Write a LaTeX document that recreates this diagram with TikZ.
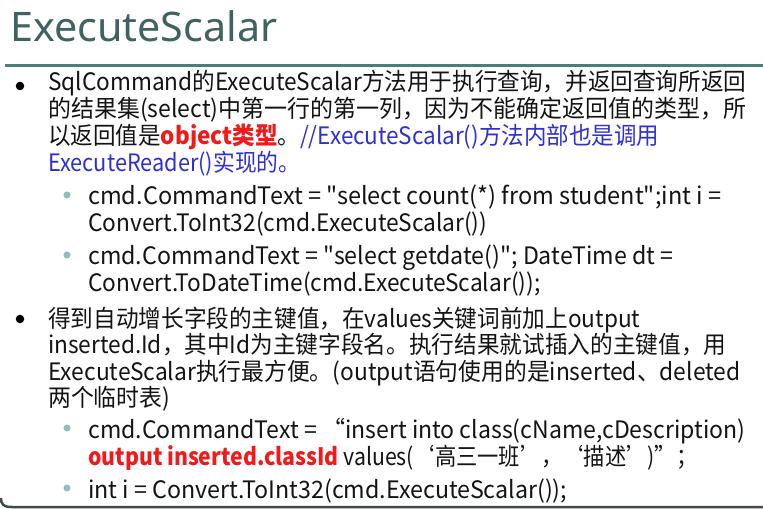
\documentclass[tikz,border=0pt]{standalone}
\usepackage{fontspec}
\usepackage{graphicx}
\newfontfamily\bodyfont{Noto Sans CJK SC}
\newfontfamily\titlefont{Noto Sans}
\newdimen\px \px=0.75pt
\definecolor{txt}{HTML}{141414}
\definecolor{redtxt}{HTML}{F01A1A}
\definecolor{bluetxt}{HTML}{2F2FD2}
\definecolor{titlecol}{HTML}{3F6360}
\definecolor{rulecol}{HTML}{4E7D77}
\definecolor{bottomcol}{HTML}{3D4B4A}
\definecolor{subdot}{HTML}{8CBFBA}
\newcommand\fitw[2]{\resizebox{#1\px}{\height}{#2}}
\newcommand\rd[1]{{\color{redtxt}\bfseries #1}}
\newcommand\bl[1]{{\color{bluetxt}#1}}
\tikzset{
  line/.style={anchor=base west, inner sep=0pt, text=txt, font=\bodyfont\fontsize{18pt}{20pt}\selectfont},
  mainbullet/.style={circle, fill=black, inner sep=0pt, minimum size=8.5\px},
  subbullet/.style={circle, fill=subdot, inner sep=0pt, minimum size=7\px},
}
\begin{document}
\begin{tikzpicture}[x=0.75pt,y=-0.75pt]
\useasboundingbox (0,0) rectangle (763,509);
\fill[white] (0,0) rectangle (763,509);
% title
\node[anchor=base west, inner sep=0pt, text=titlecol, font=\titlefont\fontsize{30.5pt}{32pt}\selectfont] (title) at (10,42) {\fitw{267}{ExecuteScalar}};
\coordinate (ruleL) at (5,66);
\coordinate (ruleR) at (763,66);
\draw[rulecol, line width=3\px] (ruleL) -- (ruleR);
% bullet 1
\node[mainbullet] (bb1) at (20,86) {};
\node[line] (b1a) at (48,91) {\fitw{698}{SqlCommand的ExecuteScalar方法用于执行查询，并返回查询所返回}};
\node[line] (b1b) at (48,118) {\fitw{698}{的结果集(select)中第一行的第一列，因为不能确定返回值的类型，所}};
\node[line] (b1c) at (48,145) {\fitw{611}{以返回值是\rd{object类型}。\bl{//ExecuteScalar()方法内部也是调用}}};
\node[line] (b1d) at (48,172) {\fitw{252}{\bl{ExecuteReader()实现的。}}};
% sub 1
\node[subbullet] (sb1) at (67,195) {};
\node[line] (s1a) at (88,205) {\fitw{633}{cmd.CommandText = "select count(*) from student";int i =}};
\node[line] (s1b) at (88,232) {\fitw{399}{Convert.ToInt32(cmd.ExecuteScalar())}};
% sub 2
\node[subbullet] (sb2) at (67,255) {};
\node[line] (s2a) at (88,265) {\fitw{585}{cmd.CommandText = "select getdate()"; DateTime dt =}};
\node[line] (s2b) at (88,292) {\fitw{452}{Convert.ToDateTime(cmd.ExecuteScalar());}};
% bullet 2
\node[mainbullet] (bb2) at (20,319) {};
\node[line] (b2a) at (48,327) {\fitw{592}{得到自动增长字段的主键值，在values关键词前加上output}};
\node[line] (b2b) at (48,353) {\fitw{678}{inserted.Id，其中Id为主键字段名。执行结果就试插入的主键值，用}};
\node[line] (b2c) at (48,380) {\fitw{692}{ExecuteScalar执行最方便。(output语句使用的是inserted、deleted}};
\node[line] (b2d) at (48,406) {\fitw{122}{两个临时表)}};
% sub 3
\node[subbullet] (sb3) at (67,428) {};
\node[line] (s3a) at (88,438) {\fitw{657}{cmd.CommandText = “insert into class(cName,cDescription)}};
\node[line] (s3b) at (88,465) {\fitw{609}{\rd{output inserted.classId} values(‘高三一班’，‘描述’)”；}};
% sub 4
\node[subbullet] (sb4) at (67,488) {};
\node[line] (s4a) at (88,498) {\fitw{479}{int i = Convert.ToInt32(cmd.ExecuteScalar());}};
% bottom frame line
\coordinate (botL) at (1,498);
\coordinate (botR) at (763,507);
\draw[bottomcol, line width=2.5\px] (botL) .. controls (1,505) and (4,507) .. (12,507) -- (botR);
\end{tikzpicture}
\end{document}
